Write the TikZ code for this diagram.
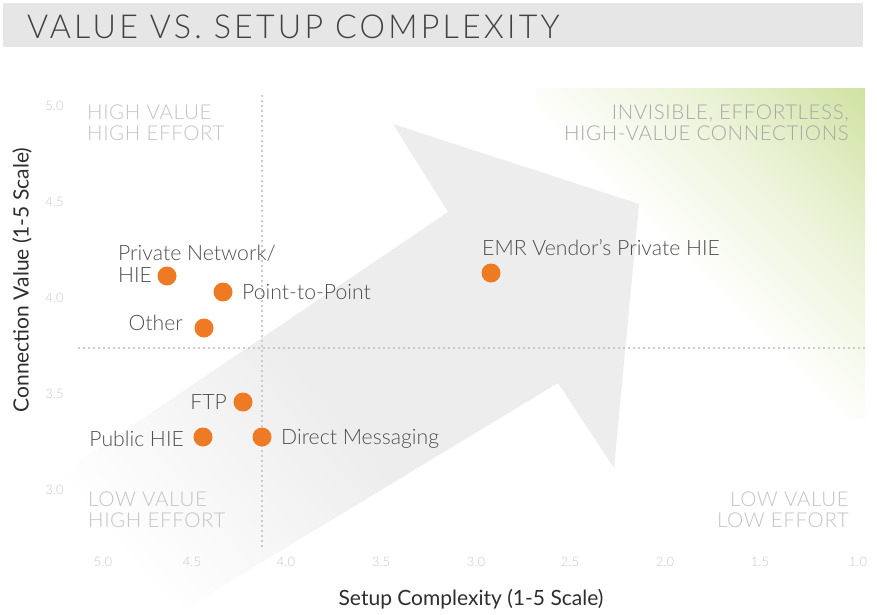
\documentclass[tikz,border=0pt]{standalone}
\usepackage{fontspec}
\setmainfont{Lato}
\IfFontExistsTF{Lato Light}{%
  \newfontfamily\lightf{Lato Light}%
  \newfontfamily\titlef{Lato Light}[LetterSpace=10]%
  \newfontfamily\quadf{Lato Light}[LetterSpace=3]}{%
  \newfontfamily\lightf{Lato}%
  \newfontfamily\titlef{Lato}[LetterSpace=10]%
  \newfontfamily\quadf{Lato}[LetterSpace=3]}
\definecolor{orng}{HTML}{EE7A24}
\definecolor{titlebg}{HTML}{E6E6E6}
\definecolor{titletx}{HTML}{424242}
\definecolor{lblgray}{HTML}{505050}
\definecolor{quadgray}{HTML}{C4C4C4}
\definecolor{quadgrayb}{HTML}{A8A8A8}
\definecolor{tickgray}{HTML}{C8C8C8}
\definecolor{axgray}{HTML}{2E2E2E}
\definecolor{dotgray}{HTML}{CACACA}
\definecolor{ag}{HTML}{EDEDED}
\definecolor{gr}{HTML}{CCE09A}
\pgfdeclareverticalshading{arrowshade}{100bp}{color(0bp)=(white); color(25bp)=(white); color(48bp)=(ag); color(100bp)=(ag)}
\pgfdeclareverticalshading{greenshade}{100bp}{color(0bp)=(white); color(47bp)=(white); color(67bp)=(gr!40); color(88bp)=(gr); color(100bp)=(gr)}
\tikzset{
  dotpt/.style={circle, fill=orng, minimum size=19pt, inner sep=0pt},
  lbl/.style={font=\lightf\fontsize{21.2}{23}\selectfont, text=lblgray, inner sep=0pt},
  quad/.style={font=\quadf\fontsize{20.5}{22}\selectfont, text=quadgray, inner sep=0pt},
  quadb/.style={font=\quadf\fontsize{20.5}{22}\selectfont, text=quadgrayb, inner sep=0pt},
  tck/.style={font=\lightf\fontsize{13}{15}\selectfont, text=tickgray, inner sep=0pt},
  axtitle/.style={font=\fontsize{21}{23}\selectfont, text=axgray, inner sep=0pt},
  guide/.style={draw=dotgray, line width=2pt, dash pattern=on 2pt off 3pt}
}
\begin{document}
\begin{tikzpicture}[x=1pt,y=1pt]
\useasboundingbox (0,0) rectangle (877,-614);
\fill[white] (0,0) rectangle (877,-614);
% title bar
\fill[titlebg] (3,-3) rectangle (863,-47);
\node[anchor=base west, inner sep=0pt, text=titletx] (title) at (27,-38) {\scalebox{0.975}[1]{\titlef\fontsize{33}{36}\selectfont VALUE VS. SETUP COMPLEXITY}};
% green corner
\shade[shading=greenshade, shading angle=-45] (536,-88) rectangle (865,-418);
% big arrow
\shade[shading=arrowshade, shading angle=-50] (15,-505) -- (448,-212) -- (393,-124) -- (639,-204) -- (614,-468) -- (558,-383) -- (186,-608) -- cycle;
% guides
\coordinate (vtop) at (262,-95);
\coordinate (vbot) at (262,-550);
\coordinate (hl) at (78,-348);
\coordinate (hr) at (865,-348);
\draw[guide] (vtop) -- (vbot);
\draw[guide] (hl) -- (hr);
% y ticks
\node[tck] (y50) at (54.5,-106) {5.0};
\node[tck] (y45) at (54.5,-202) {4.5};
\node[tck] (y40) at (54.5,-298) {4.0};
\node[tck] (y35) at (54.5,-394) {3.5};
\node[tck] (y30) at (54.5,-490) {3.0};
% x ticks
\node[tck] (x50) at (103,-562) {5.0};
\node[tck] (x45) at (192,-562) {4.5};
\node[tck] (x40) at (286,-562) {4.0};
\node[tck] (x35) at (381,-562) {3.5};
\node[tck] (x30) at (476,-562) {3.0};
\node[tck] (x25) at (570,-562) {2.5};
\node[tck] (x20) at (665,-562) {2.0};
\node[tck] (x15) at (760,-562) {1.5};
\node[tck] (x10) at (858,-562) {1.0};
% quadrant labels
\node[quad, anchor=base west] (q1a) at (87,-119) {HIGH VALUE};
\node[quad, anchor=base west] (q1b) at (87,-140) {HIGH EFFORT};
\node[quadb, anchor=base east] (q2a) at (849,-119) {INVISIBLE, EFFORTLESS,};
\node[quadb, anchor=base east] (q2b) at (849,-140) {HIGH-VALUE CONNECTIONS};
\node[quad, anchor=base west] (q3a) at (88,-506) {LOW VALUE};
\node[quad, anchor=base west] (q3b) at (88,-527) {HIGH EFFORT};
\node[quad, anchor=base east] (q4a) at (849,-506) {LOW VALUE};
\node[quad, anchor=base east] (q4b) at (849,-527) {LOW EFFORT};
% axis titles
\node[axtitle, rotate=90] (ytitle) at (22,-280) {Connection Value (1-5 Scale)};
\node[axtitle, anchor=base] (xtitle) at (471,-605) {Setup Complexity (1-5 Scale)};
% points
\node[dotpt] (pPN) at (167,-276) {};
\node[dotpt] (pPP) at (223,-292) {};
\node[dotpt] (pOT) at (204,-328) {};
\node[dotpt] (pFT) at (243,-402) {};
\node[dotpt] (pPH) at (203,-437) {};
\node[dotpt] (pDM) at (262,-437) {};
\node[dotpt] (pEM) at (491,-273) {};
% point labels
\node[lbl, anchor=base west] (lPNa) at (118,-260) {Private Network/};
\node[lbl, anchor=base west] (lPNb) at (118,-282) {HIE};
\node[lbl, anchor=base west] (lPP) at (242,-299) {Point-to-Point};
\node[lbl, anchor=base east] (lOT) at (183,-330) {Other};
\node[lbl, anchor=base east] (lFT) at (227,-409) {FTP};
\node[lbl, anchor=base east] (lPH) at (184,-446) {Public HIE};
\node[lbl, anchor=base west] (lDM) at (281,-444) {Direct Messaging};
\node[lbl, anchor=base west] (lEM) at (482,-255) {EMR Vendor’s Private HIE};
\end{tikzpicture}
\end{document}
